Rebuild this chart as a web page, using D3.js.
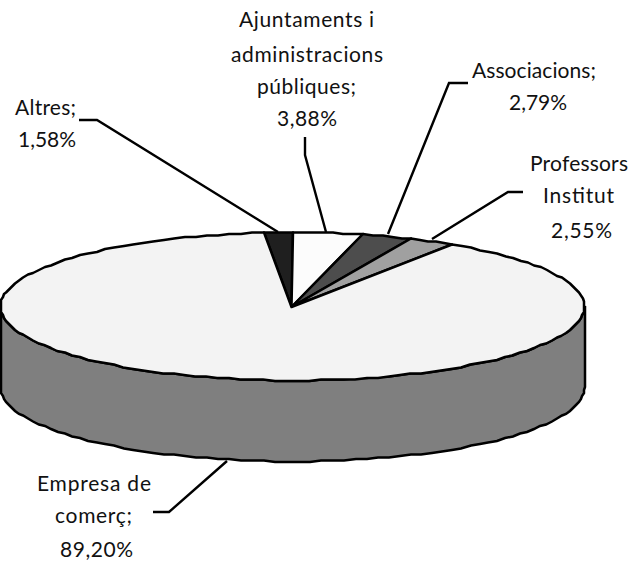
<!DOCTYPE html>
<html>
<head>
<meta charset="utf-8">
<script src="https://cdn.jsdelivr.net/npm/d3@7"></script>
<style>
body { margin:0; background:#fff; }
text { font-family:Lato, "Open Sans", sans-serif; font-size:21px; fill:#111; }
</style>
</head>
<body>
<div id="chart"></div>
<script>
// slice order follows the picture, clockwise from just left of 12 o'clock
const categories = ["Altres","Ajuntaments i administracions públiques","Associacions","Professors Institut","Empresa de comerç"]
const values = [1.58,3.88,2.79,2.55,89.20]
const valueLabels = ["1,58%","3,88%","2,79%","2,55%","89,20%"]
const topColors = ["#1f1f1f","#fcfcfc","#4d4d4d","#a0a0a0","#f3f3f3"]

const width = 632, height = 563
const cx = 292.5, cy = 306.5, rx = 292, ry = 74, depth = 81

const svg = d3.select("#chart").append("svg").attr("width",width).attr("height",height)

const start = -values[0]/100*Math.PI*2
const pie = d3.pie().sort(null).startAngle(start).endAngle(start+Math.PI*2)
const slices = pie(values)

// the flattened rim, rounded a bit so it keeps the stepped look of the original
const rim = (a,dy=0) => [Math.round(cx+rx*Math.sin(a)), Math.round((cy-ry*Math.cos(a)+dy)/1.5)*1.5]
const sample = (a0,a1,dy=0) => {
    const n = Math.max(1,Math.ceil(Math.abs(a1-a0)/0.04))
    return d3.range(n+1).map(i => rim(a0+(a1-a0)*i/n,dy))
}
const line = d3.line()

// side wall
const wallTop = sample(Math.PI/2,Math.PI*1.5)
const wallBottom = sample(Math.PI*1.5,Math.PI/2,depth)
svg.append("path").attr("d",line(wallTop.concat(wallBottom))+"Z")
    .attr("fill","#7f7f7f").attr("stroke","#000").attr("stroke-width",2.5)

// top slices
svg.selectAll("path.slice").data(slices).join("path").attr("class","slice")
    .attr("d",d => line([[291.5,307]].concat(sample(d.startAngle,d.endAngle)))+"Z")
    .attr("fill",(d,i) => topColors[i])
    .attr("stroke","#000").attr("stroke-width",2.5).attr("stroke-linejoin","round")

// leader lines
const leaders = [
    [[79,120],[97,120],[278,232]],
    [[305,137],[305,155],[326,232]],
    [[468,83],[449,83],[388,234]],
    [[523,192],[508,192],[432,239]],
    [[153,512],[169,512],[227,461]]
]
svg.selectAll("path.leader").data(leaders).join("path").attr("class","leader")
    .attr("d",d => line(d)).attr("fill","none").attr("stroke","#000").attr("stroke-width",2.4)

// text of each label line, with its measured left edge, baseline and width
const labelText = [
    categories[0]+";",valueLabels[0],
    "Ajuntaments i","administracions","públiques;",valueLabels[1],
    categories[2]+";",valueLabels[2],
    "Professors","Institut",valueLabels[3],
    "Empresa de","comerç;",valueLabels[4]
]
const labelX = [15,18,239,231,257,277,472,509,530,543,551,37,55,60]
const labelY = [115,147,27,62,94,126,78,110,171,203,238,491,523,557]
const labelW = [61,58,135,152,99,60,124,58,98,71,61,114,77,73]

svg.selectAll("text.label").data(labelText).join("text").attr("class","label")
    .attr("x",(d,i) => labelX[i]).attr("y",(d,i) => labelY[i])
    .attr("textLength",(d,i) => labelW[i]).attr("lengthAdjust","spacing")
    .text(d => d)
</script>
</body>
</html>
